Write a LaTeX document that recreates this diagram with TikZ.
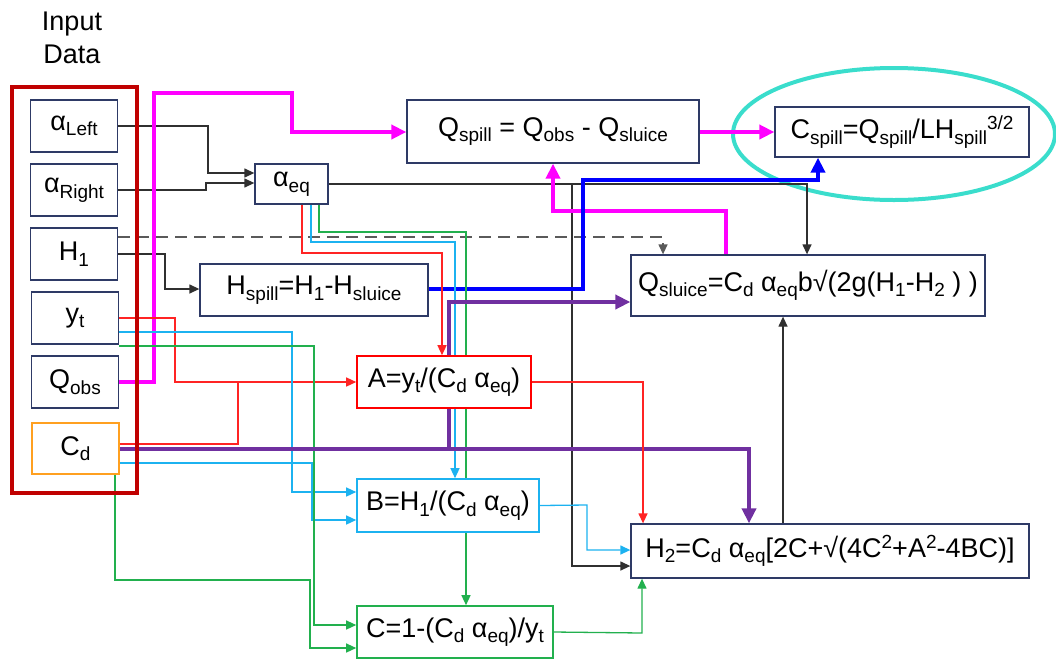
\documentclass[tikz,border=0pt]{standalone}
\usepackage{fontspec}
\setmainfont{Liberation Sans}
\usetikzlibrary{arrows.meta,calc}
\pgfdeclarelayer{bg}
\pgfsetlayers{bg,main}
\definecolor{boxc}{HTML}{2E3A66}
\definecolor{lred}{HTML}{FF2424}
\definecolor{lcyan}{HTML}{1CB2F0}
\definecolor{lgreen}{HTML}{22B04E}
\definecolor{lpurple}{HTML}{7030A0}
\definecolor{lmag}{HTML}{FF00FF}
\definecolor{lblue}{HTML}{0000FF}
\definecolor{dred}{HTML}{C00000}
\definecolor{lorange}{HTML}{FFA020}
\definecolor{turq}{HTML}{3ADDCC}
\definecolor{lgray}{HTML}{303030}
\newcommand\lsub[1]{\raisebox{-5.5pt}{\fontsize{19}{20}\selectfont #1}}
\newcommand\lsup[1]{\raisebox{9pt}{\fontsize{19}{20}\selectfont #1}}
\begin{document}
\begin{tikzpicture}[x=1pt,y=-1pt,
  every node/.style={font=\fontsize{27}{33}\selectfont},
  box/.style={draw=boxc, line width=1.3pt, fill=white, inner sep=0pt},
  thin/.style={line width=1.3pt},
  thick/.style={line width=3.8pt},
  arr/.style={-{Triangle[length=10pt,width=9pt]}},
  barr/.style={-{Triangle[length=15pt,width=14pt]}}
]
\useasboundingbox (0,0) rectangle (1056,659);

% nodes
\node[align=center] (title) at (72,38) {Input\\Data};
\node[box,minimum width=87,minimum height=52] (aL) at (74,126) {α\lsub{Left}};
\node[box,minimum width=87,minimum height=52] (aR) at (74,190) {α\lsub{Right}};
\node[box,minimum width=87,minimum height=52] (H1) at (74,254) {H\lsub{1}};
\node[box,minimum width=87,minimum height=52] (yt) at (75,318) {y\lsub{t}};
\node[box,minimum width=87,minimum height=52] (Qo) at (75,382) {Q\lsub{obs}};
\node[box,draw=lorange,line width=2.8pt,minimum width=87,minimum height=51] (Cd) at (75.5,448.5) {C\lsub{d}};
\draw[dred,line width=4pt] (12,87) rectangle (137,493);

\node[box,minimum width=73,minimum height=40] (aeq) at (291.5,184) {α\lsub{eq}};
\node[box,minimum width=228,minimum height=52] (Hs) at (314,290) {H\lsub{spill}=H\lsub{1}-H\lsub{sluice}};
\node[box,minimum width=292,minimum height=63] (Qsp) at (553,131.5) {Q\lsub{spill} = Q\lsub{obs} - Q\lsub{sluice}};
\node[box,minimum width=254,minimum height=50] (Csp) at (902,132) {C\lsub{spill}=Q\lsub{spill}/LH\lsub{spill}\lsup{3/2}};
\node[box,minimum width=354,minimum height=61] (Qsl) at (808,285.5) {Q\lsub{sluice}=C\lsub{d} α\lsub{eq}b√(2g(H\lsub{1}-H\lsub{2} ) )};
\node[box,draw=red,line width=1.6pt,minimum width=174,minimum height=52] (A) at (444,382) {A=y\lsub{t}/(C\lsub{d} α\lsub{eq})};
\node[box,draw=lcyan,line width=1.6pt,minimum width=182,minimum height=53] (B) at (448,505.5) {B=H\lsub{1}/(C\lsub{d} α\lsub{eq})};
\node[box,draw=lgreen,line width=1.6pt,minimum width=196,minimum height=52] (C) at (455,632) {C=1-(C\lsub{d} α\lsub{eq})/y\lsub{t}};
\node[box,minimum width=398,minimum height=54] (H2) at (830,551) {H\lsub{2}=C\lsub{d} α\lsub{eq}[2C+√(4C\lsup{2}+A\lsup{2}-4BC)]};

\begin{pgfonlayer}{bg}
\draw[turq,line width=4pt] (894,134) ellipse [x radius=161, y radius=66];
% black
\draw[lgray,thin,arr] (aL.east) -- (208,126) -- (208,173) -- (aeq.west |- 0,173);
\draw[lgray,thin,arr] (aR.east) -- (206,190) -- (206,183) -- (aeq.west |- 0,183);
\draw[lgray,thin,arr] (H1.east) -- (165,254) -- (165,289) -- (Hs.west |- 0,289);
\draw[lgray!80,thin,dash pattern=on 12pt off 7pt,arr] (H1.east |- 0,237) -- (663,237) -- (Qsl.north -| 663,0);
\draw[lgray,thin,arr] (aeq.east) -- (807,184) -- (Qsl.north -| 807,0);
\draw[lgray,thin,arr] (aeq.east) -- (572,184) -- (572,566) -- (H2.west |- 0,566);
\draw[lgray,thin,arr] (H2.north -| 783,0) -- (Qsl.south -| 783,0);
% magenta
\draw[lmag,thick,barr] (Qo.east) -- (154,382) -- (154,93) -- (292,93) -- (292,132) -- (Qsp.west |- 0,132);
\draw[lmag,thick,barr] (Qsp.east |- 0,132) -- (Csp.west |- 0,132);
\draw[lmag,thick,barr] (Qsl.north -| 726,0) -- (726,211) -- (553,211) -- (Qsp.south -| 553,0);
% blue
\draw[lblue,thick,barr] (Hs.east |- 0,289) -- (583,289) -- (583,180) -- (818,180) -- (Csp.south -| 818,0);
% from alpha_eq
\draw[lred,thin,arr] (aeq.south -| 302,0) -- (302,253) -- (442,253) -- (A.north -| 442,0);
\draw[lcyan,thin,arr] (aeq.south -| 311,0) -- (311,242) -- (455,242) -- (B.north -| 455,0);
\draw[lgreen,thin,arr] (aeq.south -| 319,0) -- (319,232) -- (466,232) -- (C.north -| 466,0);
% from y_t and C_d
\draw[lred,thin,arr] (yt.east |- 0,318) -- (175,318) -- (175,382) -- (A.west |- 0,382);
\draw[lred,thin] (Cd.east |- 0,444) -- (238,444) -- (238,382);
\draw[lcyan,thin,arr] (yt.east |- 0,332) -- (292,332) -- (292,492) -- (B.west |- 0,492);
\draw[lcyan,thin,arr] (Cd.east |- 0,463) -- (312,463) -- (312,520) -- (B.west |- 0,520);
\draw[lgreen,thin,arr] (yt.east |- 0,346) -- (314,346) -- (314,625) -- (C.west |- 0,625);
\draw[lgreen,thin,arr] (Cd.south -| 115,0) -- (115,580) -- (310,580) -- (310,648) -- (C.west |- 0,648);
% purple
\draw[lpurple,thick,barr] (Cd.east |- 0,449) -- (749,449) -- (H2.north -| 749,0);
\draw[lpurple,thick,barr] (449,449) -- (449,302) -- (Qsl.west |- 0,302);
% to H2
\draw[lred,thin,arr] (A.east) -- (643,382) -- (H2.north -| 643,0);
\draw[lcyan,thin,arr] (B.east) -- (587,505) -- (587,550) -- (H2.west |- 0,550);
\draw[lgreen,thin,arr] (C.east) -- (642,633) -- (H2.south -| 642,0);
\end{pgfonlayer}
\end{tikzpicture}
\end{document}
